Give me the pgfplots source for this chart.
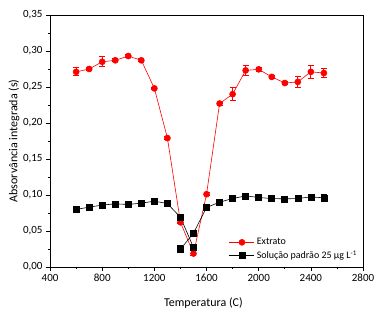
\documentclass[border=0pt]{standalone}
\usepackage{pgfplots}
\pgfplotsset{compat=1.18}
\usepackage{pgfplotstable}
\usepackage{fontspec}
\setmainfont{Carlito}

\pgfplotstableread{
x y e
600 0.271 0.0056
700 0.275 0.002
800 0.285 0.007
900 0.287 0.002
1000 0.293 0.002
1100 0.287 0.002
1200 0.248 0.002
1300 0.179 0.002
1400 0.062 0.002
1500 0.0186 0.003
1600 0.101 0.002
1700 0.227 0.002
1800 0.240 0.009
1900 0.273 0.007
2000 0.2745 0.003
2100 0.264 0.002
2200 0.2555 0.002
2300 0.257 0.008
2400 0.271 0.0085
2500 0.2694 0.006
}\extrato

\pgfplotstableread{
x y e
600 0.080 0.002
700 0.083 0.002
800 0.086 0.002
900 0.0876 0.002
1000 0.0868 0.003
1100 0.0886 0.002
1200 0.0914 0.002
1300 0.088 0.002
1400 0.069 0.002
1500 0.027 0.003
}\padraoA

\pgfplotstableread{
x y e
1400 0.0246 0.005
1500 0.047 0.002
1600 0.0826 0.002
1700 0.090 0.004
1800 0.095 0.002
1900 0.0987 0.002
2000 0.0965 0.002
2100 0.095 0.003
2200 0.0946 0.002
2300 0.095 0.002
2400 0.0973 0.002
2500 0.096 0.005
}\padraoB

\begin{document}
\begin{tikzpicture}
\begin{axis}[
  scale only axis,
  width=313pt, height=252pt,
  xmin=400, xmax=2800, ymin=0, ymax=0.35,
  xtick={400,800,...,2800},
  minor x tick num=1,
  ytick={0,0.05,...,0.351},
  minor y tick num=1,
  tick align=outside,
  xtick pos=bottom, ytick pos=left,
  major tick length=4pt, minor tick length=2.2pt,
  every tick/.style={black, line width=0.6pt},
  axis line style={line width=0.8pt},
  /pgf/number format/assume math mode=true,
  x tick label style={/pgf/number format/1000 sep={}, font=\fontsize{11}{12}\selectfont},
  y tick label style={/pgf/number format/.cd, fixed, fixed zerofill, precision=2, use comma, /tikz/.cd, font=\fontsize{11}{12}\selectfont},
  scaled y ticks=false,
  xlabel={Temperatura (C)},
  ylabel={Absorvância integrada (s)},
  every axis x label/.style={at={(rel axis cs:0.49,-0.145)}, anchor=center, font=\fontsize{12}{14}\selectfont},
  every axis y label/.style={at={(rel axis cs:-0.115,0.5)}, rotate=90, anchor=center, font=\fontsize{12}{14}\selectfont},
  clip=false,
  legend style={at={(rel axis cs:0.562,0.13)}, anchor=north west, draw=none, fill=none, font=\fontsize{10}{11}\selectfont, row sep=0.5pt},
  legend cell align=left,
  legend image code/.code={\draw[mark repeat=2,mark phase=2] plot coordinates {(0cm,0cm)(0.44cm,0cm)(0.88cm,0cm)};},
]
\addplot[red, line width=0.6pt, mark=*, mark size=3pt, mark options={solid, fill=red, draw=red},
  error bars/.cd, y dir=both, y explicit, error bar style={line width=0.8pt, red}, error mark options={rotate=90, mark size=3pt, red, line width=0.8pt}]
  table[x=x, y=y, y error=e] {\extrato};
\addlegendentry{Extrato}
\addplot[black, line width=0.6pt, mark=square*, mark size=3pt, mark options={solid, fill=black},
  error bars/.cd, y dir=both, y explicit, error bar style={line width=0.8pt}, error mark options={rotate=90, mark size=3pt, line width=0.8pt}]
  table[x=x, y=y, y error=e] {\padraoA};
\addlegendentry{Solução padrão 25 µg L\textsuperscript{-1}}
\addplot[black, line width=0.6pt, mark=square*, mark size=3pt, mark options={solid, fill=black}, forget plot,
  error bars/.cd, y dir=both, y explicit, error bar style={line width=0.8pt}, error mark options={rotate=90, mark size=3pt, line width=0.8pt}]
  table[x=x, y=y, y error=e] {\padraoB};
\path (rel axis cs:-0.16,-0.2024) rectangle (rel axis cs:1.0607,1.0595);
\end{axis}
\end{tikzpicture}
\end{document}
